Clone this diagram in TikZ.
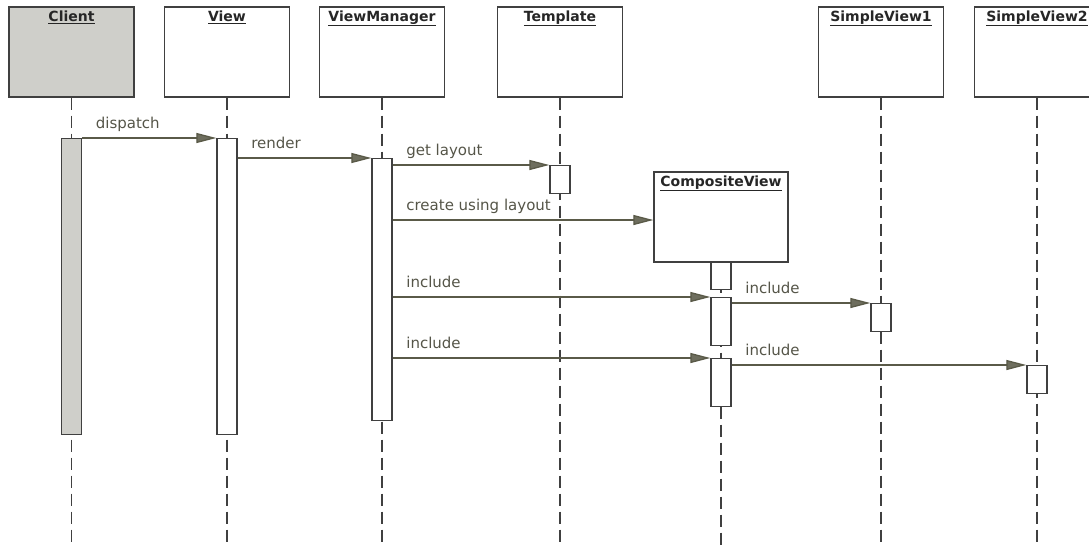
\documentclass[tikz,border=0pt]{standalone}
\usepackage{fontspec}
\setmainfont{DejaVu Sans}
\usetikzlibrary{arrows.meta}
\definecolor{linegray}{HTML}{404040}
\definecolor{msgline}{HTML}{5A5A48}
\definecolor{tipfill}{HTML}{6E6E5E}
\definecolor{clientfill}{HTML}{CFCFCA}
\definecolor{msgtext}{HTML}{555548}

\begin{document}
\begin{tikzpicture}[x=1pt,y=1pt,>={Triangle[length=20pt,width=10pt,fill=tipfill]}]
    \tikzstyle{object}=[draw=linegray,line width=1.4pt,fill=white,minimum width=125pt,minimum height=90pt,inner sep=0pt]
    \tikzstyle{title}=[anchor=north,inner sep=0pt,yshift=-4pt,font=\fontsize{14}{16}\selectfont\bfseries,text=black!85]
    \tikzstyle{act}=[draw=linegray,line width=1.4pt,fill=white,minimum width=20pt,inner sep=0pt,anchor=north]
    \tikzstyle{lifeline}=[draw=linegray,line width=1.6pt,dash pattern=on 12pt off 6pt]
    \tikzstyle{msg}=[->,draw=msgline,line width=1.3pt]
    \tikzstyle{msglabel}=[anchor=base west,pos=0,xshift=13pt,yshift=10pt,inner sep=0pt,text=msgtext,font=\fontsize{15}{18}\selectfont]

    \useasboundingbox (0,0) rectangle (1089,-547);
    \coordinate (bottom) at (0,-547);

    % objects
    \node[object,fill=clientfill] (client) at (71.5,-52)  {};
    \node[object]                 (view)   at (227,-52)   {};
    \node[object]                 (vm)     at (382,-52)   {};
    \node[object]                 (tpl)    at (560,-52)   {};
    \node[object]                 (sv1)    at (881,-52)   {};
    \node[object]                 (sv2)    at (1037,-52)  {};
    \node[object,minimum width=134pt] (comp) at (721,-217) {};

    \node[title] (clientT) at (client.north) {\underline{Client}};
    \node[title] (viewT)   at (view.north)   {\underline{View}};
    \node[title] (vmT)     at (vm.north)     {\underline{ViewManager}};
    \node[title] (tplT)    at (tpl.north)    {\underline{Template}};
    \node[title] (sv1T)    at (sv1.north)    {\underline{SimpleView1}};
    \node[title] (sv2T)    at (sv2.north)    {\underline{SimpleView2}};
    \node[title] (compT)   at (comp.north)   {\underline{CompositeView}};

    % lifelines
    \foreach \n in {client,view,vm,tpl,sv1,sv2,comp}
        \draw[lifeline] (\n.south) -- (\n.south |- bottom);

    % activations
    \node[act,fill=clientfill,minimum height=296pt] (clientAct) at (71.5,-138) {};
    \node[act,minimum height=296pt] (viewAct) at (227,-138) {};
    \node[act,minimum height=262pt] (vmAct)   at (382,-158) {};
    \node[act,minimum height=28pt]  (tplAct)  at (560,-165) {};
    \node[act,minimum height=27pt]  (cvAct1)  at (721,-262) {};
    \node[act,minimum height=48pt]  (cvAct2)  at (721,-297) {};
    \node[act,minimum height=48pt]  (cvAct3)  at (721,-358) {};
    \node[act,minimum height=28pt]  (sv1Act)  at (881,-303) {};
    \node[act,minimum height=28pt]  (sv2Act)  at (1037,-365) {};

    % messages
    \draw[msg] (clientAct.north east) -- node[msglabel]{dispatch} (viewAct.north west);
    \draw[msg] (vmAct.north west -| viewAct.east) -- node[msglabel]{render} (vmAct.north west);
    \draw[msg] (tplAct.north west -| vmAct.east) -- node[msglabel]{get layout} (tplAct.north west);
    \draw[msg] ([yshift=-3pt]comp.west -| vmAct.east) -- node[msglabel]{create using layout} ([yshift=-3pt]comp.west);
    \draw[msg] (cvAct2.north west -| vmAct.east) -- node[msglabel]{include} (cvAct2.north west);
    \draw[msg] (sv1Act.north west -| cvAct2.east) -- node[msglabel]{include} (sv1Act.north west);
    \draw[msg] (cvAct3.north west -| vmAct.east) -- node[msglabel]{include} (cvAct3.north west);
    \draw[msg] (sv2Act.north west -| cvAct3.east) -- node[msglabel]{include} (sv2Act.north west);
\end{tikzpicture}
\end{document}
